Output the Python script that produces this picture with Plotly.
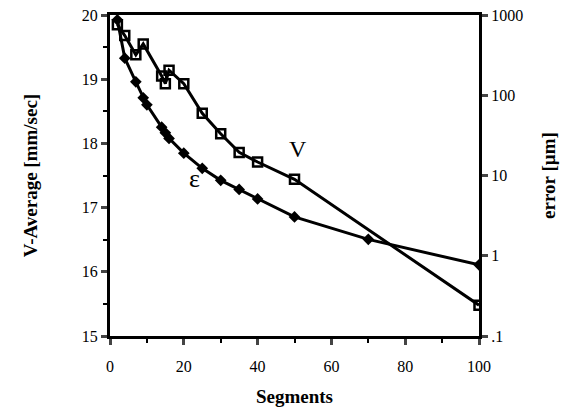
import plotly.graph_objects as go

# V-Average (left axis)
v_x = [2, 4, 7, 9, 14, 15, 16, 20, 25, 30, 35, 40, 50, 100]
v_y = [19.85, 19.68, 19.38, 19.55, 19.05, 18.93, 19.14, 18.93, 18.47, 18.15, 17.86, 17.71, 17.44, 15.48]

# error epsilon (right log axis)
e_x = [2, 4, 7, 9, 10, 14, 15, 16, 20, 25, 30, 35, 40, 50, 70, 100]
e_y = [870, 290, 147, 93, 76, 40, 34, 29, 19, 12.3, 8.7, 6.7, 5.1, 3.05, 1.6, 0.77]

x_ticks = [0, 20, 40, 60, 80, 100]
left_ticks = [15, 16, 17, 18, 19, 20]
right_ticks = [0.1, 1, 10, 100, 1000]
right_labels = [".1", "1", "10", "100", "1000"]

font_family = "Liberation Serif, Times New Roman, serif"

fig = go.Figure()
fig.add_trace(go.Scatter(
    x=v_x, y=v_y, mode="lines+markers", name="V",
    line=dict(color="black", width=3),
    marker=dict(symbol="square-open", size=9, color="black", line=dict(width=2.5, color="black")),
    yaxis="y", showlegend=False))
fig.add_trace(go.Scatter(
    x=e_x, y=e_y, mode="lines+markers", name="ε",
    line=dict(color="black", width=3),
    marker=dict(symbol="diamond", size=9, color="black"),
    yaxis="y2", showlegend=False))

fig.update_layout(
    width=569, height=407,
    margin=dict(l=110, r=90, t=15, b=71),
    paper_bgcolor="white", plot_bgcolor="white",
    font=dict(family=font_family, color="black", size=15),
    xaxis=dict(
        range=[0, 100], tickvals=x_ticks, ticks="outside", ticklen=6, tickwidth=3,
        showline=True, linewidth=3, linecolor="black", mirror=True,
        showgrid=False, zeroline=False, ticklabelstandoff=8, automargin=False,
        minor=dict(ticks="outside", ticklen=4, tickwidth=2, dtick=10, tickcolor="black"),
        title=dict(text="<b>Segments</b>", font=dict(size=19, family=font_family), standoff=20),
        tickfont=dict(size=16),
    ),
    yaxis=dict(
        range=[15, 20], tickvals=left_ticks, ticks="outside", ticklen=6, tickwidth=3,
        showline=True, linewidth=3, linecolor="black", automargin=False,
        showgrid=False, zeroline=False,
        minor=dict(ticks="outside", ticklen=4, tickwidth=2, dtick=0.5, tickcolor="black"),
        title=dict(text="<b>V-Average [mm/sec]</b>", font=dict(size=19, family=font_family), standoff=40),
        tickfont=dict(size=16),
    ),
    yaxis2=dict(
        type="log", range=[-1, 3], overlaying="y", side="right", automargin=False,
        tickvals=right_ticks, ticktext=right_labels, ticks="outside", ticklen=6, tickwidth=3,
        showline=True, linewidth=3, linecolor="black",
        showgrid=False, zeroline=False,
        title=dict(text="<b>error [µm]</b>", font=dict(size=19, family=font_family), standoff=20),
        tickfont=dict(size=16),
    ),
    annotations=[
        dict(x=51, y=17.92, xref="x", yref="y", text="V", showarrow=False,
             font=dict(size=24, family=font_family, color="black")),
        dict(x=23, y=17.45, xref="x", yref="y", text="ε", showarrow=False,
             font=dict(size=26, family=font_family, color="black")),
    ],
)

fig.write_html("out.html")
